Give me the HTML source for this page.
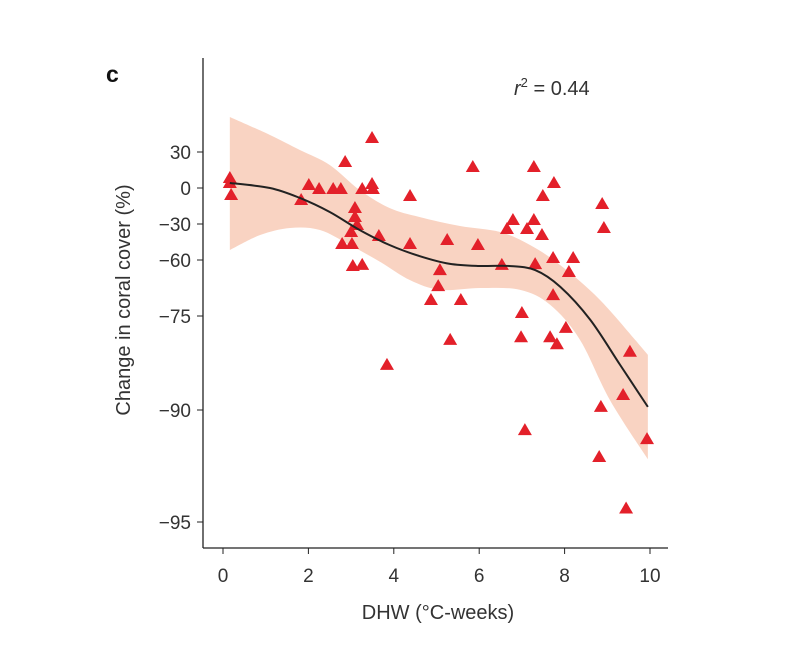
<!DOCTYPE html>
<html><head><meta charset="utf-8"><style>
body{margin:0;background:#fff;}
svg{display:block;font-family:"Liberation Sans",sans-serif;}
</style></head><body>
<svg id="chart" width="789" height="661"></svg>
<script>
const xTicks=[0,2,4,6,8,10];
const yTicks=[30,0,-30,-60,-75,-90,-95];
const ptX=[0.16,0.16,0.19,1.83,2.01,2.25,2.58,2.76,2.86,3.26,3.49,3.49,3.51,4.38,3.09,3.09,3.14,3.0,3.65,4.38,2.79,3.02,3.04,3.26,5.08,5.04,4.87,3.84,5.25,5.85,5.97,5.32,5.57,6.53,6.65,6.79,7.0,6.98,7.07,7.12,7.28,7.28,7.31,7.47,7.49,7.75,7.73,7.66,7.82,7.73,8.03,8.1,8.2,8.88,8.92,8.85,8.81,9.37,9.53,9.44,9.93];
const ptY=[8.3,4.2,-5.8,-10,2.5,-0.8,-0.8,-0.8,21.7,-0.8,41.7,3.3,-0.8,-6.7,-16.7,-24.2,-30.8,-36.7,-40,-46.7,-46.7,-46.7,-61.6,-61.3,-62.7,-67,-70.7,-82.8,-43.3,17.5,-47.5,-78.8,-70.7,-61.3,-34.2,-26.7,-74.2,-78.4,-90.9,-34.2,-26.7,17.5,-61.1,-39.2,-6.7,4.2,-58.3,-78.4,-79.5,-69.4,-76.9,-63.2,-58.3,-13.3,-33.3,-89.5,-92.1,-87.6,-80.7,-94.4,-91.3];
const fitX=[0.16,1.1,1.8,2.5,3.2,3.9,4.6,5.3,6.0,6.7,7.31,7.9,8.6,9.3,9.95];
const fitY=[4.2,0,-8.3,-20,-35,-47.5,-56.7,-61,-61.6,-61.6,-62.7,-67.2,-75.6,-82.8,-89.5];
const upX=[0.16,1.1,1.8,2.5,3.2,3.9,4.6,5.55,6.49,7.19,7.89,8.83,9.95];
const upY=[59.2,44.2,31.7,19.2,-1.7,-16.7,-24.2,-31.7,-36.7,-47.5,-61.3,-70.7,-81.2];
const loX=[0.16,0.87,1.57,2.27,2.97,3.68,4.38,5.08,6.02,6.96,7.66,8.36,9.06,9.95];
const loY=[-51.7,-39.2,-33.3,-35,-47.5,-60.5,-65.4,-68,-67.5,-68,-72,-78.8,-88.4,-92.2];

const tickPx=[152,188,224,260,316,410,522];
function sx(v){return 223+v*42.7;}
function sy(v){
  const t=yTicks;
  if(v>=t[0]) return tickPx[0]-(v-t[0])*36/30;
  for(let i=0;i<t.length-1;i++){
    if(v<=t[i]&&v>=t[i+1]) return tickPx[i]+(t[i]-v)/(t[i]-t[i+1])*(tickPx[i+1]-tickPx[i]);
  }
  return tickPx[6]+(t[6]-v)*22;
}
function smooth(pts,start){
  let d=(start?'M':'L')+pts[0][0]+','+pts[0][1];
  for(let i=0;i<pts.length-1;i++){
    const p0=pts[Math.max(0,i-1)],p1=pts[i],p2=pts[i+1],p3=pts[Math.min(pts.length-1,i+2)];
    const c1x=p1[0]+(p2[0]-p0[0])/6,c1y=p1[1]+(p2[1]-p0[1])/6;
    const c2x=p2[0]-(p3[0]-p1[0])/6,c2y=p2[1]-(p3[1]-p1[1])/6;
    d+=`C${c1x},${c1y} ${c2x},${c2y} ${p2[0]},${p2[1]}`;
  }
  return d;
}
const NS="http://www.w3.org/2000/svg";
const svg=document.getElementById('chart');
function mk(tag,attrs,parent){const e=document.createElementNS(NS,tag);for(const k in attrs)e.setAttribute(k,attrs[k]);(parent||svg).appendChild(e);return e;}

// band
const up=upX.map((x,i)=>[sx(x),sy(upY[i])]);
const lo=loX.map((x,i)=>[sx(x),sy(loY[i])]).reverse();
const d=smooth(up,true)+smooth(lo,false)+'Z';
const band=mk('path',{d:d,fill:'#f9d3c2'});



// points
const pg=mk('g',{});


ptX.forEach((x,i)=>{
  const cx=sx(x),cy=sy(ptY[i]);
  const tri=mk('polygon',{points:`${cx},${cy-7} ${cx-7},${cy+5} ${cx+7},${cy+5}`,fill:'#e3202a'},pg);
  
  
});

// fit line
const fp=fitX.map((x,i)=>[sx(x),sy(fitY[i])]);
const fl=mk('path',{d:smooth(fp,true),fill:'none',stroke:'#222','stroke-width':2});



// axes
const ya=mk('line',{x1:203,y1:58,x2:203,y2:548,stroke:'#222','stroke-width':1.3});


const xa=mk('line',{x1:203,y1:548,x2:668,y2:548,stroke:'#222','stroke-width':1.3});


yTicks.forEach((v,i)=>{
  const y=sy(v);
  mk('line',{x1:197,y1:y,x2:203,y2:y,stroke:'#222'});
  const t=mk('text',{x:191,y:y+7,'text-anchor':'end','font-size':19,fill:'#333'});
  t.textContent=v<0?'\u2212'+Math.abs(v):v;
  
  
});
xTicks.forEach(v=>{
  const x=sx(v);
  mk('line',{x1:x,y1:548,x2:x,y2:554,stroke:'#222'});
  const t=mk('text',{x:x,y:582,'text-anchor':'middle','font-size':19,fill:'#333'});
  t.textContent=v;
  
  
});
const xt=mk('text',{x:438,y:619,'text-anchor':'middle','font-size':20,fill:'#333'});
xt.textContent='DHW (°C-weeks)';


const yt=mk('text',{x:0,y:0,'text-anchor':'middle','font-size':20,fill:'#333',transform:'translate(130,300) rotate(-90)'});
yt.textContent='Change in coral cover (%)';


const pl=mk('text',{x:106,y:82,'font-size':23,'font-weight':'bold',fill:'#111'});
pl.textContent='c';


const r=mk('text',{x:514,y:95,'font-size':20,fill:'#333'});
r.innerHTML='<tspan font-style="italic">r</tspan><tspan dy="-8" font-size="13">2</tspan><tspan dy="8"> = 0.44</tspan>';


</script>
</body></html>
